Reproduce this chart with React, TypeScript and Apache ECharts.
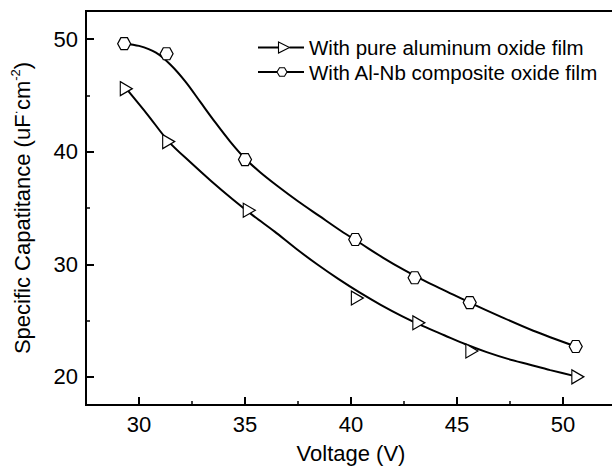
import React, { useEffect, useRef } from 'react';
import * as echarts from 'echarts';

const seriesNames = ['With pure aluminum oxide film', 'With Al-Nb composite oxide film'];
// measured points
const triX = [29.4, 31.4, 35.2, 40.3, 43.2, 45.7, 50.7];
const triY = [45.6, 40.9, 34.8, 27.0, 24.8, 22.3, 20.0];
const hexX = [29.3, 31.3, 35.0, 40.2, 43.0, 45.6, 50.6];
const hexY = [49.6, 48.7, 39.3, 32.2, 28.8, 26.6, 22.7];
// fitted curves
const triFitX = [29.4, 30.4, 31.4, 32.4, 33.4, 34.4, 35.4, 36.4, 37.4, 38.4, 39.4, 40.4, 41.4, 42.4, 43.4, 44.4, 45.4, 46.4, 47.4, 48.4, 49.4, 50.7];
const triFitY = [45.6, 43.3, 40.9, 39.1, 37.4, 35.8, 34.3, 32.9, 31.4, 30.0, 28.7, 27.5, 26.4, 25.4, 24.5, 23.7, 22.9, 22.2, 21.6, 21.1, 20.6, 20.0];
const hexFitX = [29.3, 30.0, 30.8, 31.5, 32.2, 32.9, 33.6, 34.3, 35.0, 35.7, 36.5, 37.5, 38.5, 39.5, 40.5, 41.5, 42.5, 43.5, 44.5, 45.6, 47.0, 48.6, 50.6];
const hexFitY = [49.6, 49.4, 48.8, 47.7, 46.2, 44.4, 42.6, 40.9, 39.4, 38.2, 37.0, 35.6, 34.3, 33.0, 31.8, 30.6, 29.5, 28.5, 27.6, 26.6, 25.4, 24.1, 22.7];
const xMajor = [30, 35, 40, 45, 50];
const xMinor = [32.5, 37.5, 42.5, 47.5];
const yMajor = [20, 30, 40, 50];
const yMinor = [25, 35, 45];

export default function App() {
  const ref = useRef<HTMLDivElement>(null);
  useEffect(() => {
    const chart = echarts.init(ref.current!, null, { renderer: 'svg' });
    const font = "'Liberation Sans', Arial, Helvetica, sans-serif";
    const triPath = 'path://M0,0L13,7.5L0,15Z';
    const hexPath = 'path://M0,5.2L3,0L9,0L12,5.2L9,10.4L3,10.4Z';
    const lbl = { fontSize: 22, color: '#000', fontFamily: font };
    const markerStyle = { color: '#fff', borderColor: '#000', borderWidth: 1.2 };

    // legend layout (icons drawn as graphics, text by the legend)
    const lgLeft = 258, lgTop = 35.5, rowH = 24, rowGap = 0.5, iconW = 46;
    const r1 = lgTop + rowH / 2;
    const r2 = r1 + rowH + rowGap;
    const ln = (x1: number, x2: number, y: number) => ({
      type: 'line', shape: { x1, y1: y, x2, y2: y }, style: { stroke: '#000', lineWidth: 2 }, z: 100,
    });
    const iconStyle = { fill: '#fff', stroke: '#000', lineWidth: 1.1 };
    const tc = lgLeft + 26; // triangle centre
    const hc = lgLeft + 24; // hexagon centre

    chart.setOption({
      animation: false,
      backgroundColor: '#fff',
      grid: {
        left: 86, top: 11, right: -4, bottom: 62,
        show: true, borderColor: '#000', borderWidth: 2, backgroundColor: 'transparent',
        outerBoundsMode: 'none',
      },
      legend: {
        orient: 'vertical', left: lgLeft, top: lgTop, padding: 0, itemWidth: iconW, itemHeight: 12, itemGap: rowGap,
        textStyle: { fontSize: 20.5, lineHeight: rowH, color: '#000', fontFamily: font },
        itemStyle: { color: 'rgba(0,0,0,0)', borderWidth: 0, opacity: 0 },
        data: [
          { name: seriesNames[0], icon: 'rect' },
          { name: seriesNames[1], icon: 'rect' },
        ],
      },
      graphic: [
        ln(lgLeft, tc - 5.5, r1),
        ln(tc + 5.5, lgLeft + iconW, r1),
        { type: 'polygon', shape: { points: [[tc - 5.5, r1 - 5.5], [tc + 5.5, r1], [tc - 5.5, r1 + 5.5]] }, style: iconStyle, z: 101 },
        ln(lgLeft, hc - 5, r2),
        ln(hc + 5, lgLeft + iconW, r2),
        {
          type: 'polygon',
          shape: { points: [[hc - 5, r2], [hc - 2.5, r2 - 4.3], [hc + 2.5, r2 - 4.3], [hc + 5, r2], [hc + 2.5, r2 + 4.3], [hc - 2.5, r2 + 4.3]] },
          style: iconStyle, z: 101,
        },
      ],
      xAxis: [
        {
          type: 'value', min: 27.5, max: 52.5, position: 'bottom',
          axisLine: { show: true, lineStyle: { color: '#000', width: 2 } },
          axisTick: { show: true, inside: true, length: 8, customValues: xMajor, lineStyle: { color: '#000', width: 2 } },
          axisLabel: { customValues: xMajor, margin: 8, ...lbl },
          splitLine: { show: false },
          name: 'Voltage (V)', nameLocation: 'middle', nameGap: 37,
          nameTextStyle: { ...lbl },
        },
        {
          type: 'value', min: 27.5, max: 52.5, position: 'bottom',
          axisLine: { show: false },
          axisTick: { show: true, inside: true, length: 4, customValues: xMinor, lineStyle: { color: '#000', width: 1.5 } },
          axisLabel: { show: false },
          splitLine: { show: false },
        },
      ],
      yAxis: [
        {
          type: 'value', min: 17.5, max: 52.5, position: 'left',
          axisLine: { show: true, lineStyle: { color: '#000', width: 2 } },
          axisTick: { show: true, inside: true, length: 8, customValues: yMajor, lineStyle: { color: '#000', width: 2 } },
          axisLabel: { customValues: yMajor, margin: 8, ...lbl },
          splitLine: { show: false },
          name: 'Specific Capatitance (uF{sup|·}cm{sup|-2})', nameLocation: 'middle', nameGap: 51,
          nameTextStyle: {
            ...lbl, lineHeight: 26,
            rich: { sup: { fontSize: 13, lineHeight: 13, verticalAlign: 'top', color: '#000', fontFamily: font } },
          },
        },
        {
          type: 'value', min: 17.5, max: 52.5, position: 'left',
          axisLine: { show: false },
          axisTick: { show: true, inside: true, length: 4, customValues: yMinor, lineStyle: { color: '#000', width: 1.5 } },
          axisLabel: { show: false },
          splitLine: { show: false },
        },
      ],
      series: [
        {
          type: 'line', name: 'fit-tri',
          data: triFitX.map((x, i) => [x, triFitY[i]]),
          smooth: 0.3, symbol: 'none',
          lineStyle: { color: '#000', width: 2 }, z: 2,
        },
        {
          type: 'line', name: 'fit-hex',
          data: hexFitX.map((x, i) => [x, hexFitY[i]]),
          smooth: 0.3, symbol: 'none',
          lineStyle: { color: '#000', width: 2 }, z: 2,
        },
        {
          type: 'line', name: seriesNames[0],
          data: triX.map((x, i) => [x, triY[i]]),
          symbol: triPath, symbolSize: [12, 14], showAllSymbol: true,
          itemStyle: markerStyle,
          lineStyle: { width: 0, opacity: 0 }, z: 3,
        },
        {
          type: 'line', name: seriesNames[1],
          data: hexX.map((x, i) => [x, hexY[i]]),
          symbol: hexPath, symbolSize: [13, 12], showAllSymbol: true,
          itemStyle: markerStyle,
          lineStyle: { width: 0, opacity: 0 }, z: 3,
        },
      ],
    });
    return () => chart.dispose();
  }, []);
  return <div ref={ref} style={{ position: 'fixed', left: 0, top: 0, width: 612, height: 467 }} />;
}
